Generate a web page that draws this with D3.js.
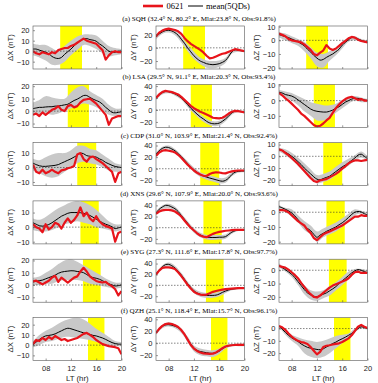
<!DOCTYPE html>
<html>
<head>
<meta charset="utf-8">
<script src="https://cdn.jsdelivr.net/npm/d3@7/dist/d3.min.js"></script>
<style>
  body { margin: 0; background: #fff; }
  svg { display: block; }
</style>
</head>
<body>
<svg id="chart"></svg>
<script>
// ---- data ----
const hours = [6, 6.5, 7, 7.5, 8, 8.5, 9, 9.5, 10, 10.5, 11, 11.5, 12, 12.5, 13, 13.5, 14, 14.5, 15, 15.5, 16, 16.5, 17, 17.5, 18, 18.5, 19, 19.5, 20];
const bandHours = [6, 7, 8, 9, 10, 11, 12, 13, 14, 15, 16, 17, 18, 19, 20];
const xTicks = [8, 12, 16, 20];
const xTickLabels = ["08", "12", "16", "20"];

const titles = [
    "(a) SQH (32.4° N, 80.2° E, Mlat:23.8° N, Obs:91.8%)",
    "(b) LSA (29.5° N, 91.1° E, Mlat:20.3° N, Obs:93.4%)",
    "(c) CDP (31.0° N, 103.9° E, Mlat:21.4° N, Obs:92.4%)",
    "(d) XNS (29.6° N, 107.9° E, Mlat:20.0° N, Obs:93.6%)",
    "(e) SYG (27.3° N, 111.6° E, Mlat:17.8° N, Obs:97.7%)",
    "(f) QZH (25.1° N, 118.4° E, Mlat:15.7° N, Obs:96.1%)"
];
const eclipseStart = [10.3, 11.5, 13.0, 13.5, 13.9, 14.7];
const eclipseEnd = [13.75, 14.85, 16.0, 16.4, 16.7, 17.3];

const compLabels = ["ΔX (nT)", "ΔY (nT)", "ΔZ (nT)"];

// ΔX
const meanX = [
    [2, 2, 1, 0, -1, -2.5, -5, -6.5, -7, -6, -3, -0.5, 2, 5, 7.8, 10, 11.5, 12, 11, 10.5, 9.5, 7, 5, 2.5, 0, -1, -1, 0, 0],
    [2, 2.5, 3, 3, 3.3, 3.5, 3.5, 4, 4, 4.5, 5, 5.5, 7, 8.5, 9.6, 11, 12.5, 12.5, 11, 9.6, 8.5, 7.4, 5.5, 3, 1, -1, -1.4, -1, -0.5],
    [3, 2, 1.2, 0.8, 0.8, 1, 1.2, 1.5, 2, 3, 4, 5, 6, 7.2, 8.5, 9.9, 9.5, 8.2, 7.8, 7.5, 7.2, 6, 5, 3.5, 2.5, 1.5, 0.7, 0.3, 0],
    [3, 2, 1, 0.7, 1, 1.8, 3, 4.5, 6, 7.5, 8.5, 9.5, 10, 10, 10, 9.9, 9.5, 9, 8, 6.8, 5.5, 4.2, 3, 2, 1.2, 0.2, -1, -0.5, 0],
    [2.5, 3, 3.5, 4, 5, 6, 6.9, 8, 9.5, 10.5, 11, 11.3, 11.6, 11.5, 11, 10.7, 10, 8.5, 7, 6, 5.5, 4.7, 3.5, 2, 1, 0, -0.8, -0.5, 0],
    [0.5, 3, 5.5, 7.5, 9, 9.5, 10, 11, 12.5, 14, 15.5, 16.5, 16, 15, 14, 13, 12, 11.3, 10.5, 9.5, 9, 8, 7, 5.6, 4, 2.5, 1.5, 1, 1]
];
const eventX = [
    [0, -2, -3, -1, -2, -3, -1, -2, 1, 2, 3, 3, 5, 6, 8, 10, 12, 10, 9, 8, 7, 4, 1, -8, -4, -1, 0, -1, -1],
    [-3, -2, -4, -1, -3, -1, 1, 2, 4, 1, 0, 4, 5, 3, 4, 7, 9, 9.5, 10, 8, 6, 3, 0, -3, -11, -6, -5, -4, -4],
    [2, -3, -4, -1.5, -4, -3, -1.5, -3, -4, -2, -1.5, -0.5, 0, 1, 9, 10, 5.8, 4, 7, 7.6, 5.8, 4.5, 3, 1, -1, -3, -10, -4, -3],
    [2, 0, -1, -3.5, 2, -1.5, 0, 3, 2, -1, 3, 6, 3, 5, 8, 13.5, 7.5, 10, 6, 4, 7.5, 4, 2, 0.7, 0, -1, -10, -4, -3],
    [3, 3.5, 2, 0.5, 2, 3.5, 6, 7.5, 2.5, 6, 4, 2, 4, 6, 7, 11, 14, 11, 7, 5, 3.3, 2.5, 2, 2.5, 0.5, -1, -3.5, -8.5, -5],
    [1, 5, 4, 7, 5, 8, 6, 9, 7, 5, 6, 4, 5, 6, 7, 9, 11, 12, 10, 8, 5, 3, 1, 0, -1, -1.5, -2, -3, -9]
];
const bandLoX = [
    [-4, -6, -9, -13, -13, -10, -4, 1, 6, 5, 2, -2, -5, -4, -3],
    [-3, -3, -2, -3, -2, 0, 2, 4, 6, 5, 3, 0, -3, -4, -3],
    [-2, -4, -6, -7, -6, -3, 0, 3, 4, 3, 2, 0, -2, -3, -3],
    [-2, -3, -3, -2, 0, 2, 3, 4, 3, 2, 0, -1, -2, -3, -2],
    [0, 0, 1, 1, 3, 4, 4, 4, 3, 1, 0, -1, -2, -3, -2],
    [-2, 0, 3, 4, 6, 8, 8, 7, 6, 5, 3, 2, 0, -1, -1]
];
const bandHiX = [
    [7, 6, 6, 3, 0, 5, 10, 14, 16, 16, 15, 10, 5, 3, 2],
    [7, 9, 12, 11, 10, 10, 15, 19, 20, 16, 13, 10, 5, 2, 2],
    [6, 5, 7, 9, 10, 10, 12, 15, 15, 13, 12, 9, 6, 3, 2],
    [6, 5, 7, 10, 13, 15, 17, 18, 17, 15, 12, 8, 4, 2, 2],
    [6, 7, 10, 13, 17, 20, 21, 19, 16, 13, 10, 7, 4, 2, 2],
    [4, 10, 14, 17, 21, 24, 26, 27, 25, 21, 16, 12, 8, 4, 3]
];

// ΔY
const meanY = [
    [16.5, 21, 24, 26, 26.5, 25.5, 23, 19, 13, 7, 0, -6, -12, -16.5, -20, -22, -24, -25, -25.5, -25, -24, -22, -19, -13, -6, -3, -3.5, -4.5, -5.5],
    [20, 25, 29, 31, 30.5, 29, 27, 24, 20, 15, 9, 3, -2, -7, -11.5, -15, -19, -21.7, -23, -23, -22, -19, -15, -10, -5, -2, -2, -3, -4],
    [25, 31, 35, 37, 36.5, 34, 31, 26, 21, 15, 9, 3, -2, -6.5, -10, -12.5, -14.4, -16, -17.5, -19, -20.5, -21.5, -20, -16, -10, -6, -4.5, -4, -4],
    [26, 33, 37, 40, 39.5, 37, 34, 29, 22, 15, 8, 1, -5, -10, -13, -15.5, -17, -17.5, -17.5, -17.5, -17, -17, -16, -12, -8, -5.5, -4.5, -4, -4],
    [20, 28, 34, 38, 38.5, 36, 32, 26, 19, 11, 3, -4, -10, -14, -16.5, -18, -18.5, -18.5, -18.5, -18, -16, -13, -10.5, -8.5, -7, -6.2, -5.5, -5, -5],
    [17, 23, 28, 30.5, 31, 30, 28.5, 26, 21.5, 15, 7, -1.5, -8, -12, -14, -15, -16, -16.8, -17, -16, -13.5, -9.5, -6, -4, -3.5, -3, -3, -3, -3]
];
const eventY = [
    [17, 23, 26, 28, 29, 28, 27, 25, 21, 15, 10, 6, 3, 0, -3, -7, -12, -16, -15, -13, -11, -9, -8, -6, -4, -2, -3, -4, -5],
    [20, 26, 30, 32, 31, 30, 28, 26, 22, 17, 12, 7, 3, 0, -3, -5, -7.5, -10, -13, -13.5, -14, -13, -10, -6, -3, -1.5, -2, -3, -4],
    [22, 28, 31, 32, 31, 30, 28, 24, 19, 13, 7, 2, -3, -7, -10, -12, -12.5, -9, -7, -6, -6.5, -7.5, -8, -6, -4.5, -3.5, -3, -3, -3],
    [25, 29, 31, 32, 32, 31, 29, 25, 20, 13, 6, 0, -5, -10, -14, -16, -17, -14, -11, -9, -7.5, -6.5, -5.5, -5, -4.5, -4, -4, -4, -4],
    [20, 27, 32, 33, 33, 32, 30, 24, 17, 9, 1, -6, -12, -15, -17, -17.5, -17, -14.5, -12, -10.5, -9, -8, -7, -6.5, -6, -5.5, -5, -5, -5],
    [17, 24, 29, 32, 33, 32, 30, 27, 22, 15, 6, -3, -9, -13, -15.5, -17, -17.5, -18, -17.5, -15.5, -12, -8.5, -5.5, -4, -3.5, -3, -3, -3, -3]
];
const bandLoY = [
    [13, 21, 23, 19, 8, -5, -17, -25, -30, -31, -29, -23, -9, -6, -7],
    [17, 26, 28, 24, 17, 5, -6, -16, -23, -27, -26, -19, -8, -4, -6],
    [22, 32, 33, 27, 17, 5, -6, -14, -19, -22, -25, -24, -13, -7, -6],
    [23, 33, 35, 30, 18, 4, -9, -17, -21, -22, -21, -20, -11, -6, -6],
    [17, 31, 35, 28, 15, -1, -14, -21, -23, -23, -20, -14, -9, -7, -7],
    [14, 25, 28, 25, 17, 2, -14, -20, -22, -23, -18, -9, -5, -5, -5]
];
const bandHiY = [
    [20, 27, 30, 27, 17, 5, -6, -15, -19, -20, -19, -15, -3, -1, -4],
    [22, 32, 33, 30, 23, 13, 2, -7, -15, -19, -18, -11, -2, 0, -2],
    [28, 38, 40, 34, 24, 13, 2, -6, -10, -13, -16, -15, -6, -2, -2],
    [29, 40, 43, 38, 26, 12, -1, -9, -13, -13, -13, -12, -5, -3, -2],
    [23, 37, 42, 36, 23, 7, -6, -12, -14, -14, -12, -7, -5, -4, -3],
    [20, 31, 35, 32, 25, 11, -4, -9, -11, -12, -9, -3, -2, -1, -1]
];

// ΔZ
const meanZ = [
    [4.2, 3.5, 2.7, 2, 1, 0, -1, -2.5, -4, -6.5, -8.5, -11, -13, -14.5, -14, -12.5, -11.2, -10, -8.3, -6.5, -3.5, -1.5, 0.5, 2, 2, 1, 0, -1, -1.5],
    [5.5, 5, 4, 3.5, 3, 2, 0.5, -1, -2.5, -4, -5.5, -6.5, -7, -7.3, -7.5, -7.5, -7, -6.2, -5, -4, -2.5, -1, 0, 1, 1.5, 1.5, 1, 0.5, 0],
    [5.7, 5, 3.5, 2, 0, -2, -4.5, -7, -10, -12.5, -15, -17.5, -19.5, -20, -19, -18, -17, -15, -13, -11, -9, -7.5, -5.5, -3.5, -1.5, 1, 1.8, 0, -2],
    [3.8, 3, 2, 1, -0.5, -2.5, -5, -7.5, -9.5, -11, -12.5, -15, -17, -15.5, -14.3, -13, -12, -11, -10, -8.5, -7.2, -5.5, -3.5, -1.5, 0, 0.5, 0.2, -1, -1.8],
    [3.3, 2, 0.5, -1.2, -3, -5.5, -8.5, -11.5, -14.5, -17, -18.5, -19.5, -19.9, -19, -18, -17, -15.5, -14, -12.3, -10, -8, -6, -4, -2, -0.5, 0.5, 0, -1, -1.8],
    [2, -0.5, -3, -5.5, -7.5, -9, -10.5, -12.5, -14, -15.3, -16, -16.5, -17, -17.2, -16.5, -15, -13.6, -12.2, -11, -9.5, -8.3, -7, -5.5, -4, -2, 0, 1.4, 0.8, 0]
];
const eventZ = [
    [5, 4, 3, 1, 0, -0.5, -1, -1.5, -3, -5, -7, -10, -11, -9, -7.5, -3.5, -6, -7, -6, -4, -2, -0.5, 1.5, 2.5, 2, 0.5, -0.5, -1, -1.5],
    [5, 3.5, 1.5, 0, -2, -4, -6, -8.5, -10, -12, -14, -16, -17, -16.5, -15, -13, -11.3, -8, -5, -2.5, -0.5, 1, 2, 2.5, 1.5, 0.5, 1, 0, 0],
    [6, 5, 3, 1, -1.5, -4, -6.5, -9.5, -12.5, -15.5, -18.5, -21, -22, -20.5, -20, -19.5, -18, -16.5, -15, -13, -10.5, -8.5, -6, -4.5, -3.5, -3.5, -4, -3.5, -3],
    [1.5, 1.5, 1, 0, -2, -4, -6, -7.5, -9, -12, -14, -17.5, -19, -17, -15, -14, -13, -12, -11, -10, -9, -7.5, -6, -4.5, -3, -3, -2, -2.5, -2.5],
    [3.3, 2.5, 2, 0.5, -1.5, -3.5, -6, -9.5, -12.5, -15.5, -18, -20, -20.5, -19, -17, -15, -13, -11.5, -10.5, -9.5, -8.5, -7.5, -6, -3.5, -1.5, -1, -2, -2, -2],
    [2, 1, -1, -4, -6.5, -8.5, -10, -11, -11.5, -12.5, -15, -18, -21, -19, -15, -14, -13.6, -13, -12.5, -12, -11, -9.5, -8, -5.5, -2, 1.5, 3, 1.5, 0.5]
];
const bandLoZ = [
    [2, 0, -2, -4, -8, -13, -19, -20, -15, -11, -6, -1, 0, -1, -2],
    [4, 2, 0, -3, -7, -10, -13, -13, -11, -8, -5, -2, 0, -1, -1],
    [4, 1, -3, -8, -13, -19, -23, -22, -20, -16, -12, -8, -4, -1, -4],
    [2, 0, -3, -7, -12, -15, -20, -17, -15, -13, -10, -6, -2, -1, -2],
    [2, -1, -5, -11, -18, -22, -23, -21, -19, -15, -11, -7, -2, -1, -3],
    [1, -5, -10, -14, -20, -23, -24, -23, -20, -16, -12, -7, -3, 0, -1]
];
const bandHiZ = [
    [6, 5, 3, 1, -1, -5, -9, -10, -8, -6, -1, 2, 3, 1, 0],
    [7, 6, 5, 3, 1, -1, -2, -3, -3, -2, 0, 2, 3, 2, 1],
    [7, 6, 3, -1, -6, -11, -16, -15, -13, -9, -5, -2, 1, 4, 0],
    [5, 3, 2, -2, -6, -9, -13, -11, -9, -7, -4, -1, 2, 1, 0],
    [5, 2, -1, -6, -11, -15, -16, -15, -12, -9, -5, -1, 1, 1, 0],
    [3, -1, -5, -7, -9, -10, -11, -10, -8, -6, -5, -4, 0, 2, 1]
];

// y ranges and ticks
const yDomains = [
    [[-17, 24], [-32, 33], [-21, 10.5]],
    [[-13, 21.5], [-29, 43], [-17.5, 10.7]],
    [[-12.5, 17.2], [-29, 45], [-25, 11.7]],
    [[-11.5, 18], [-29, 48], [-21.5, 7.7]],
    [[-14, 21], [-31, 48], [-24, 8.3]],
    [[-15, 27], [-29, 43], [-26, 9]]
];
const yTicks = [
    [[-10, 0, 10, 20], [-20, 0, 20], [-20, -10, 0, 10]],
    [[-10, 0, 10, 20], [-20, 0, 20, 40], [-10, 0, 10]],
    [[-10, 0, 10], [-20, 0, 20, 40], [-20, -10, 0, 10]],
    [[-10, 0, 10], [-20, 0, 20, 40], [-20, -10, 0]],
    [[-10, 0, 10, 20], [-20, 0, 20, 40], [-20, -10, 0]],
    [[-10, 0, 10, 20], [-20, 0, 20, 40], [-20, -10, 0]]
];

const meanAll = [meanX, meanY, meanZ];
const eventAll = [eventX, eventY, eventZ];
const bandLoAll = [bandLoX, bandLoY, bandLoZ];
const bandHiAll = [bandHiX, bandHiY, bandHiZ];

// ---- layout ----
const width = 378, height = 383;
const colLeft = [33, 156, 279];
const panelW = 88.5, panelH = 43;
const rowTop0 = 26, rowStep = 58.3;

const svg = d3.select("#chart")
    .attr("width", width)
    .attr("height", height)
    .style("font-family", "'Liberation Sans', Arial, sans-serif");

svg.append("rect").attr("width", width).attr("height", height).attr("fill", "#fff");

// Legend
const legend = svg.append("g");
legend.append("line").attr("x1", 143).attr("x2", 163).attr("y1", 6).attr("y2", 6)
    .attr("stroke", "#e8141b").attr("stroke-width", 2.6);
legend.append("text").attr("x", 166.5).attr("y", 9).text("0621")
    .style("font-family", "'Liberation Serif', 'Times New Roman', serif").style("font-size", "8.5px");
legend.append("line").attr("x1", 188).attr("x2", 203).attr("y1", 6).attr("y2", 6)
    .attr("stroke", "#000").attr("stroke-width", 1);
legend.append("text").attr("x", 206).attr("y", 9).text("mean(5QDs)")
    .style("font-family", "'Liberation Serif', 'Times New Roman', serif").style("font-size", "8.5px");

const x = d3.scaleLinear().domain([6, 20]);

for (let r = 0; r < 6; r++) {
    const top = rowTop0 + r * rowStep;

    // Row title
    svg.append("text")
        .attr("x", 199).attr("y", top - 5)
        .attr("text-anchor", "middle")
        .style("font-family", "'Liberation Serif', 'Times New Roman', serif")
        .style("font-size", "7.1px")
        .text(titles[r]);

    for (let c = 0; c < 3; c++) {
        const left = colLeft[c];
        x.range([left, left + panelW]);
        const y = d3.scaleLinear().domain(yDomains[r][c]).range([top + panelH, top]);

        const clipId = "clip-" + r + "-" + c;
        svg.append("clipPath").attr("id", clipId)
            .append("rect").attr("x", left).attr("y", top).attr("width", panelW).attr("height", panelH);

        const g = svg.append("g");
        const inner = g.append("g").attr("clip-path", "url(#" + clipId + ")");

        // Eclipse period
        inner.append("rect")
            .attr("x", x(eclipseStart[r]))
            .attr("width", x(eclipseEnd[r]) - x(eclipseStart[r]))
            .attr("y", top).attr("height", panelH)
            .attr("fill", "#ffff00");

        // Spread of the quiet days
        const bandData = bandHours.map((h, i) => ({ h: h, lo: bandLoAll[c][r][i], hi: bandHiAll[c][r][i] }));
        inner.append("path")
            .datum(bandData)
            .attr("fill", "#c8c8c8")
            .attr("d", d3.area()
                .x(d => x(d.h))
                .y0(d => y(d.lo))
                .y1(d => y(d.hi))
                .curve(d3.curveCatmullRom.alpha(0.5)));

        // Zero line
        inner.append("line")
            .attr("x1", left).attr("x2", left + panelW)
            .attr("y1", y(0)).attr("y2", y(0))
            .attr("stroke", "#333").attr("stroke-width", 0.6)
            .attr("stroke-dasharray", "1.5,1.5");

        // Mean of quiet days
        inner.append("path")
            .datum(hours.map((h, i) => [h, meanAll[c][r][i]]))
            .attr("fill", "none").attr("stroke", "#000").attr("stroke-width", 1)
            .attr("d", d3.line().x(d => x(d[0])).y(d => y(d[1])).curve(d3.curveCatmullRom.alpha(0.5)));

        // Eclipse day
        inner.append("path")
            .datum(hours.map((h, i) => [h, eventAll[c][r][i]]))
            .attr("fill", "none").attr("stroke", "#e8141b").attr("stroke-width", 2.2)
            .attr("stroke-linejoin", "round")
            .attr("d", d3.line().x(d => x(d[0])).y(d => y(d[1])));

        // Axes box
        g.append("rect")
            .attr("x", left).attr("y", top).attr("width", panelW).attr("height", panelH)
            .attr("fill", "none").attr("stroke", "#555").attr("stroke-width", 0.6);

        // y axis
        const yAxis = g.append("g").attr("transform", "translate(" + left + ",0)")
            .call(d3.axisLeft(y).tickValues(yTicks[r][c]).tickSize(-2).tickPadding(3.5));
        yAxis.select(".domain").remove();
        yAxis.selectAll("line").attr("stroke", "#555").attr("stroke-width", 0.6);
        yAxis.selectAll("text").style("font-size", "7.5px").attr("fill", "#222")
            .style("font-family", "'Liberation Sans', Arial, sans-serif");

        // x axis
        const xAxis = g.append("g").attr("transform", "translate(0," + (top + panelH) + ")")
            .call(d3.axisBottom(x).tickValues(xTicks).tickSize(-2).tickPadding(5)
                .tickFormat((d, i) => r === 5 ? xTickLabels[i] : ""));
        xAxis.select(".domain").remove();
        xAxis.selectAll("line").attr("stroke", "#555").attr("stroke-width", 0.6);
        xAxis.selectAll("text").style("font-size", "7.5px").attr("fill", "#222")
            .style("font-family", "'Liberation Sans', Arial, sans-serif");

        // y label
        g.append("text")
            .attr("transform", "translate(" + (left - 20) + "," + (top + panelH / 2) + ") rotate(-90)")
            .attr("text-anchor", "middle")
            .style("font-size", "7.8px").attr("fill", "#222")
            .text(compLabels[c]);

        if (r === 5) {
            g.append("text")
                .attr("x", left + panelW / 2).attr("y", 381)
                .attr("text-anchor", "middle")
                .style("font-size", "7.8px").attr("fill", "#222")
                .text("LT (hr)");
        }
    }
}
</script>
</body>
</html>
